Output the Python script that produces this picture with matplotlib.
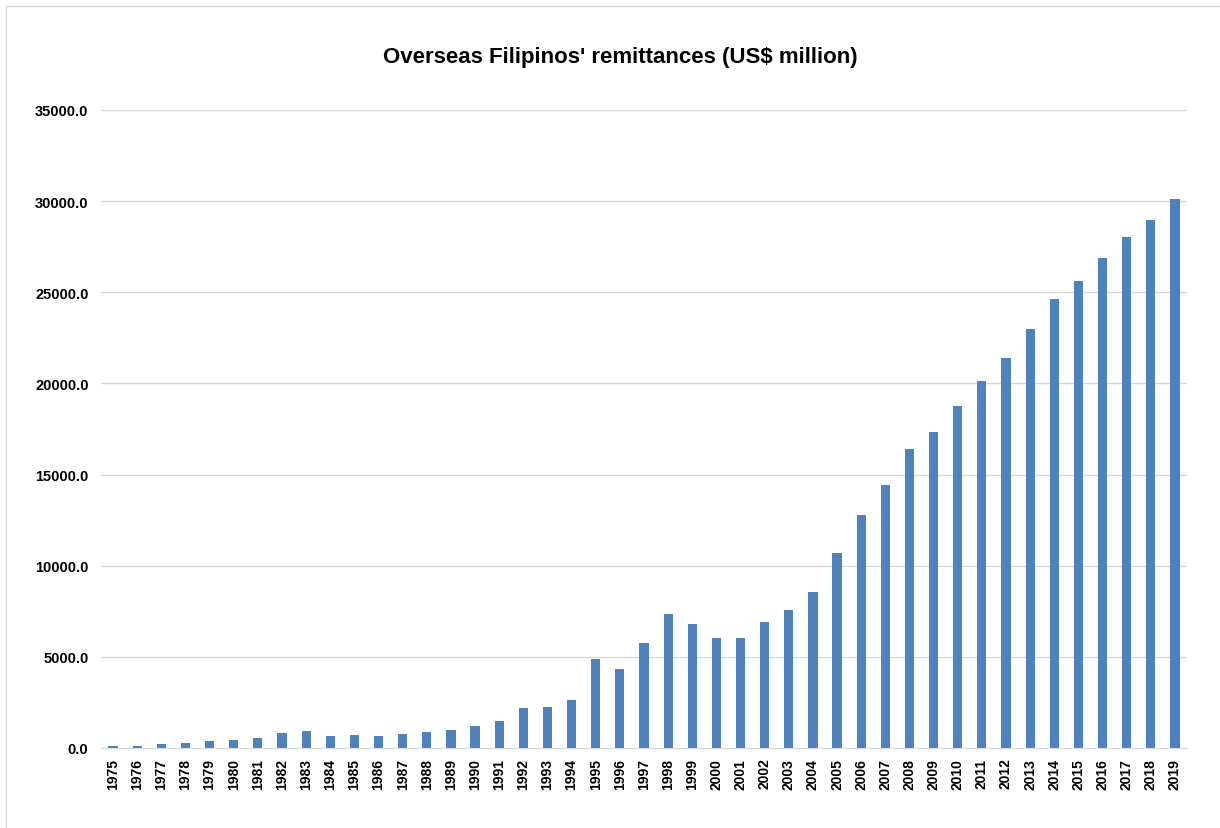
import matplotlib.pyplot as plt
from matplotlib.patches import Rectangle

plt.rcParams['font.family'] = ['Liberation Sans', 'DejaVu Sans']

years = [str(y) for y in range(1975, 2020)]
remittances = [103, 111, 213, 290, 365, 421, 546, 810, 944, 651,
               687, 680, 792, 857, 973, 1181, 1500, 2202, 2230, 2630,
               4878, 4307, 5742, 7368, 6794, 6050, 6031, 6886, 7578, 8550,
               10689, 12761, 14450, 16427, 17348, 18763, 20117, 21391, 22984, 24628,
               25607, 26900, 28060, 28943, 30133]
yticks = [0, 5000, 10000, 15000, 20000, 25000, 30000, 35000]

W, H = 1220, 829
fig = plt.figure(figsize=(W / 100, H / 100), dpi=100)

# light chart-area border
fig.patches.append(Rectangle((6 / W, -0.1), 1.2, 1 - 7 / H + 0.1,
                             transform=fig.transFigure, fill=False,
                             edgecolor='#D9D9D9', linewidth=1))

ax = fig.add_axes([101 / W, (H - 749) / H, (1187 - 101) / W, (749 - 111) / H])
x = range(len(years))
ax.bar(x, remittances, width=0.38, color='#4F81BD', zorder=3)

ax.set_xlim(-0.5, len(years) - 0.5)
ax.set_ylim(0, 35000)
ax.set_yticks(yticks)
ax.set_yticklabels([f'{v:.1f}' for v in yticks], fontsize=10.5, fontweight='bold')
ax.set_xticks(list(x))
ax.set_xticklabels(years, rotation=90, fontsize=10, fontweight='bold')
ax.tick_params(axis='both', length=0)
ax.tick_params(axis='y', pad=9)
ax.tick_params(axis='x', pad=7)

ax.grid(axis='y', color='#D9D9D9', linewidth=1, zorder=0)
for s in ['top', 'right', 'left']:
    ax.spines[s].set_visible(False)
ax.spines['bottom'].set_color('#D9D9D9')
ax.spines['bottom'].set_zorder(4)

fig.text(620 / W, 1 - 57 / H, "Overseas Filipinos' remittances (US$ million)",
         ha='center', va='center', fontsize=16, fontweight='bold')

fig.savefig('out.png', dpi=100, facecolor='white')
